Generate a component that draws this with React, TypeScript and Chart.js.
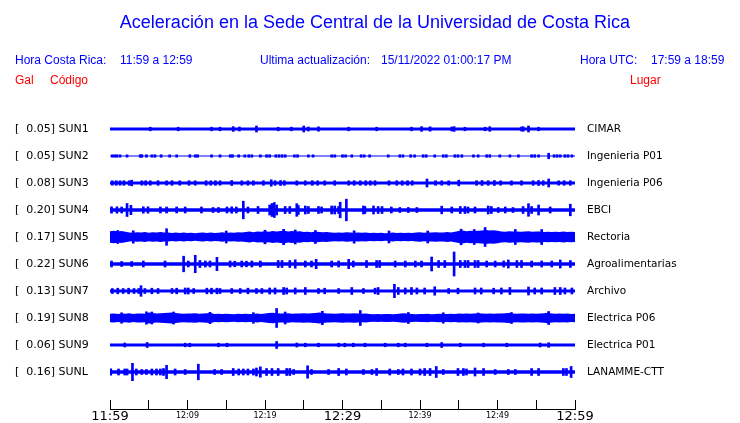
import React, { useEffect, useRef } from 'react';
import { Chart, registerables } from 'chart.js';

Chart.register(...registerables);

// ---------- data ----------
const CODES = ['SUN1', 'SUN2', 'SUN3', 'SUN4', 'SUN5', 'SUN6', 'SUN7', 'SUN8', 'SUN9', 'SUNL'];
const GAL = [0.05, 0.05, 0.08, 0.2, 0.17, 0.22, 0.13, 0.19, 0.06, 0.16];
const PLACES = ['CIMAR', 'Ingenieria P01', 'Ingenieria P06', 'EBCI', 'Rectoria', 'Agroalimentarias', 'Archivo', 'Electrica P06', 'Electrica P01', 'LANAMME-CTT'];
const TIME_LABELS = ['11:59', '', '12:09', '', '12:19', '', '12:29', '', '12:39', '', '12:49', '', '12:59'];

// half-width of the continuous background band of each trace (normalized amplitude)
const BASE_HALF = [1.6, 0.5, 1.6, 1.7, 4.5, 1.8, 1.6, 4.0, 1.6, 1.7];

// envelope (half-amplitude) of the noisy traces, one value every half minute (0..60)
const SUN5_ENV = [
  5.8, 6.2, 5.4, 6.0, 5.2,
  4.6, 4.2, 4.8, 4.4, 5.0, 4.3, 4.7, 4.4, 4.9, 4.5,
  4.6, 4.0, 4.4, 3.9, 4.5, 4.1, 4.3, 3.8, 4.2, 4.6, 4.0, 4.4, 3.9, 4.3, 4.7, 4.1, 4.5, 4.2, 4.8, 4.6,
  5.0, 5.4, 4.8, 5.6, 5.2, 5.8, 5.3, 6.0, 5.5, 5.9, 6.2, 5.6, 6.0, 5.4, 5.8,
  5.0, 5.3, 4.8, 5.4, 5.0, 4.7, 4.9,
  4.5, 4.2, 4.6, 4.3, 4.7, 4.4, 4.2, 4.6, 4.3, 4.5,
  4.0, 4.3, 3.9, 4.2, 3.8, 4.1, 4.4, 4.0, 4.2, 3.9, 4.3, 4.1,
  4.4, 4.7, 4.3, 4.6, 4.5, 4.8, 4.4, 4.6, 4.9, 4.5, 5.2,
  6.0, 6.4, 5.8, 6.2, 5.9, 6.3, 6.6,
  7.0, 6.6, 6.8, 6.2,
  5.6, 5.3, 5.8, 5.4, 5.6, 5.2, 5.5, 5.7, 5.3, 5.6, 5.4,
  5.0, 5.3, 4.9, 5.2, 5.0, 5.4, 5.1, 5.3, 5.0,
];
const SUN8_ENV = [
  4.2, 4.6, 4.0, 4.5, 4.3, 4.7, 4.1, 4.4, 4.6, 4.2,
  5.5, 5.0, 4.6, 4.8, 5.0, 5.2, 5.4, 5.0,
  4.5, 4.2, 4.6, 4.4, 4.7, 4.3, 4.5, 4.8, 5.0,
  4.0, 4.3, 3.9, 4.2, 4.1, 3.8, 4.2, 4.0, 4.3, 3.9, 4.1, 4.4, 4.0, 4.6, 5.0, 5.2,
  4.8, 4.5, 4.4, 4.7, 4.3, 4.6, 4.4, 4.8, 4.5, 4.7, 5.0, 5.4, 5.0,
  4.4, 4.6, 4.3, 4.5, 4.7, 4.4, 4.6, 4.8, 4.5, 4.3, 4.5, 4.1,
  3.8, 4.0, 3.7, 3.9, 4.1, 3.8, 4.0, 4.4, 4.8, 4.3, 4.0, 3.8, 4.1, 3.9, 4.2, 3.8, 4.0, 4.2, 3.9, 4.1,
  4.3, 4.1, 4.4, 4.2, 4.6, 4.3, 4.5, 4.8, 4.4, 4.2, 4.5, 4.3, 4.6, 4.4, 4.8, 5.0, 4.5, 4.3, 4.6, 4.4, 4.2, 4.5, 4.3, 4.6,
  4.8, 5.2, 4.6, 4.3, 4.5, 4.2, 4.4, 4.1, 4.3,
];
const ENV_STEP_MIN = 0.5;

// bursts / spikes: [minute after 11:59, half-amplitude]
const SPIKES_SUN1 = [
  [5.2, 1.8], [8.8, 1.8], [13.1, 1.8], [14.2, 1.8], [15.9, 2.4], [16.7, 2.0], [18.9, 3.0], [21.7, 1.8],
  [23.4, 1.8], [25.0, 3.0], [25.6, 2.0], [26.9, 2.2], [30.8, 1.8], [34.4, 1.8], [38.9, 1.8], [40.2, 2.4],
  [41.3, 2.2], [44.1, 2.0], [44.4, 2.4], [45.8, 1.8], [48.4, 1.8], [49.0, 2.3], [53.1, 2.0], [53.3, 2.3],
  [54.0, 3.0], [55.3, 1.8],
];
const SPIKES_SUN2 = [
  [0.3, 1.2], [0.6, 1.2], [0.9, 1.3], [1.3, 1.2], [2.2, 1.2], [3.9, 1.3], [4.1, 1.3], [4.7, 1.3], [5.4, 1.2],
  [5.8, 1.3], [6.6, 1.3], [7.7, 1.2], [8.6, 1.2], [10.3, 1.3], [11.0, 1.2], [11.3, 1.3], [13.1, 1.2],
  [14.2, 1.2], [15.5, 1.3], [15.8, 1.3], [16.6, 1.2], [17.4, 1.2], [17.9, 1.3], [18.3, 1.2], [19.4, 1.2],
  [20.2, 1.3], [20.6, 1.3], [21.4, 1.3], [21.8, 1.3], [22.2, 1.3], [22.6, 1.3], [23.8, 1.2], [24.2, 1.3],
  [25.6, 1.2], [26.2, 1.2], [28.6, 1.2], [29.0, 1.2], [30.0, 1.3], [30.4, 1.2], [31.2, 1.2], [32.4, 1.3],
  [32.8, 1.2], [33.5, 1.2], [35.9, 1.2], [37.4, 1.3], [37.8, 1.2], [38.8, 1.3], [39.3, 1.2], [40.4, 1.3],
  [40.8, 1.3], [41.9, 1.2], [43.0, 1.3], [43.4, 1.3], [44.5, 1.3], [44.9, 1.3], [45.4, 1.3], [46.9, 1.2],
  [47.5, 1.2], [48.6, 1.3], [49.0, 1.3], [50.3, 1.2], [51.6, 1.2], [52.7, 1.2], [54.4, 1.3], [54.8, 1.3],
  [55.3, 1.2], [56.6, 2.8], [57.3, 1.3], [57.7, 1.3], [58.1, 1.2], [58.7, 1.3], [59.1, 1.3], [59.6, 1.2],
];
const SPIKES_SUN3 = [
  [0.3, 2.2], [0.8, 2.3], [1.3, 2.2], [1.8, 2.3], [2.5, 2.3], [2.8, 2.8], [4.1, 2.2], [4.6, 2.3], [5.2, 2.2],
  [6.2, 2.3], [7.3, 2.2], [8.0, 2.3], [9.0, 2.2], [10.2, 2.3], [11.0, 2.2], [12.4, 2.3], [13.0, 2.2],
  [13.6, 2.3], [14.2, 2.2], [15.7, 2.5], [17.0, 2.2], [17.8, 2.2], [18.5, 2.2], [19.8, 2.3], [20.8, 3.2],
  [21.3, 2.3], [22.0, 2.5], [22.5, 2.3], [24.1, 2.2], [25.2, 2.2], [26.1, 2.3], [26.8, 2.2], [27.7, 2.2],
  [29.0, 2.3], [30.8, 2.2], [31.5, 2.3], [32.3, 2.2], [33.0, 2.3], [33.6, 2.2], [34.2, 2.3], [36.0, 2.2],
  [37.0, 2.3], [37.7, 2.2], [38.4, 2.3], [39.0, 2.2], [40.9, 4.0], [42.0, 2.3], [42.8, 2.2], [43.7, 2.2],
  [45.0, 2.8], [47.3, 2.3], [48.0, 2.5], [48.8, 2.3], [49.6, 2.5], [50.4, 2.2], [51.8, 2.2], [53.1, 2.2],
  [54.6, 2.3], [55.3, 2.5], [55.9, 2.3], [56.6, 4.0], [57.9, 2.2], [58.6, 2.3], [59.4, 2.3],
];
const SPIKES_SUN4 = [
  [0.2, 3.2], [0.9, 3.2], [1.5, 3.0], [2.2, 6.5], [2.7, 4.7], [4.3, 3.2], [4.9, 3.2], [6.5, 3.0], [7.3, 3.0],
  [8.6, 3.0], [9.7, 3.0], [11.8, 3.0], [13.3, 2.5], [14.0, 2.5], [15.1, 3.0], [15.7, 3.2], [16.3, 3.0],
  [17.2, 8.8], [17.8, 3.0], [19.1, 3.5], [20.6, 5.0], [20.9, 6.5], [21.2, 7.5], [21.5, 5.0], [22.6, 3.5],
  [23.2, 3.5], [24.1, 6.3], [24.3, 4.5], [25.2, 4.0], [25.6, 3.5], [26.9, 3.5], [27.3, 3.0], [28.6, 4.0],
  [29.0, 4.0], [29.5, 3.5], [29.7, 7.8], [30.5, 10.8], [32.7, 4.0], [32.9, 3.5], [34.0, 4.0], [34.6, 3.5],
  [35.1, 3.5], [36.3, 3.0], [37.4, 2.5], [38.5, 2.5], [39.6, 2.5], [42.8, 3.8], [44.1, 3.0], [45.2, 3.5],
  [45.8, 3.5], [46.2, 3.0], [47.1, 3.0], [48.8, 4.0], [49.2, 3.5], [50.1, 2.5], [51.0, 3.0], [52.0, 2.5],
  [53.3, 3.5], [54.0, 6.3], [54.4, 3.5], [55.3, 5.0], [56.8, 3.0], [59.4, 5.8],
];
const SPIKES_SUN5 = [
  [1.0, 6.5], [3.0, 6.2], [7.3, 8.3], [15.0, 6.0], [20.0, 6.8], [22.4, 7.7], [23.9, 7.0], [26.5, 6.5],
  [31.5, 6.2], [36.0, 6.0], [41.0, 6.0], [45.3, 7.8], [47.0, 7.5], [48.4, 9.5], [52.3, 7.5], [55.7, 7.5],
];
const SPIKES_SUN6 = [
  [0.2, 3.0], [1.5, 2.5], [2.8, 2.5], [4.3, 3.0], [7.1, 3.0], [9.5, 7.8], [10.1, 3.0], [11.0, 8.7], [11.6, 3.5],
  [12.3, 3.0], [12.9, 3.0], [13.8, 6.7], [15.5, 3.0], [16.1, 2.8], [17.0, 3.0], [17.6, 2.8], [18.3, 3.0],
  [19.4, 3.0], [21.7, 3.5], [22.2, 3.5], [23.2, 3.5], [23.9, 4.2], [25.2, 3.0], [26.0, 3.0], [26.6, 4.7],
  [28.6, 3.0], [29.5, 3.0], [30.8, 4.7], [31.4, 3.0], [33.1, 3.5], [34.4, 3.5], [34.8, 3.5], [36.8, 3.0],
  [38.1, 3.0], [39.4, 3.0], [40.2, 3.0], [41.5, 7.0], [42.4, 3.5], [43.2, 3.5], [44.4, 12.0], [45.2, 3.5],
  [45.8, 3.5], [46.2, 3.5], [47.1, 3.5], [47.5, 3.5], [48.6, 3.0], [49.7, 3.0], [50.8, 3.0], [51.4, 4.0],
  [52.5, 3.5], [53.1, 3.5], [54.4, 3.0], [55.7, 3.0], [57.0, 3.0], [58.1, 4.0], [59.4, 3.5],
];
const SPIKES_SUN7 = [
  [0.3, 2.5], [1.0, 2.8], [1.7, 2.5], [2.4, 2.8], [3.1, 2.5], [3.7, 2.5], [4.0, 5.3], [4.5, 2.5], [5.4, 2.8],
  [6.2, 2.5], [8.0, 2.5], [8.6, 2.8], [9.7, 3.0], [10.1, 3.0], [10.8, 2.5], [12.5, 2.8], [13.1, 2.8],
  [13.8, 2.8], [14.2, 2.5], [15.7, 2.5], [16.8, 2.5], [17.8, 2.8], [18.9, 2.5], [19.6, 2.5], [20.6, 3.0],
  [21.3, 3.0], [22.4, 3.5], [22.8, 3.0], [23.9, 3.0], [25.2, 3.5], [26.9, 2.5], [27.7, 2.8], [29.5, 2.5],
  [31.2, 3.5], [32.7, 2.5], [34.2, 2.8], [34.6, 3.5], [36.7, 6.7], [37.2, 3.5], [38.1, 3.0], [38.9, 3.5],
  [39.6, 3.0], [40.6, 3.0], [41.9, 4.2], [43.7, 2.5], [44.9, 2.8], [47.1, 3.0], [47.9, 3.0], [49.5, 2.8],
  [50.5, 3.0], [51.6, 3.5], [54.0, 4.0], [54.8, 3.0], [55.7, 3.0], [57.4, 3.5], [58.1, 3.5], [58.7, 3.0],
  [59.6, 3.0],
];
const SPIKES_SUN8 = [
  [1.5, 5.2], [4.7, 6.2], [5.4, 6.0], [8.2, 6.0], [12.9, 5.7], [18.5, 5.3], [21.5, 9.5], [22.6, 6.0],
  [27.4, 6.7], [32.3, 7.5], [38.5, 5.5], [43.0, 5.2], [47.5, 5.0], [51.8, 5.5], [56.6, 6.5],
];
const SPIKES_SUN9 = [
  [1.9, 2.0], [4.8, 2.5], [9.7, 1.8], [10.3, 1.8], [14.0, 1.8], [15.1, 1.8], [21.5, 3.5], [24.1, 2.0],
  [25.2, 1.8], [26.9, 1.8], [29.5, 1.8], [30.3, 1.8], [31.4, 1.8], [32.9, 1.8], [35.5, 1.8], [37.2, 1.8],
  [38.1, 1.8], [40.9, 1.8], [42.8, 2.5], [45.2, 1.8], [48.2, 1.8], [51.2, 1.8], [55.5, 2.0], [56.6, 2.3],
];
const SPIKES_SUNL = [
  [0.1, 3.2], [1.1, 3.0], [1.9, 3.0], [2.2, 3.0], [2.9, 8.7], [3.4, 3.0], [4.1, 2.5], [4.7, 2.5], [5.4, 3.0],
  [6.0, 3.0], [6.5, 3.0], [6.9, 3.5], [7.3, 6.7], [8.4, 3.0], [9.7, 2.5], [11.4, 7.8], [13.5, 2.5],
  [14.4, 2.5], [15.9, 3.5], [16.6, 3.0], [17.2, 3.0], [17.8, 3.0], [18.5, 3.0], [18.9, 4.0], [19.4, 5.2],
  [20.2, 3.5], [20.9, 3.5], [21.7, 3.5], [22.8, 3.5], [23.2, 3.5], [23.7, 2.5], [25.5, 6.2], [26.0, 2.5],
  [28.2, 2.5], [29.5, 3.5], [30.5, 3.0], [32.7, 2.5], [33.8, 2.5], [34.4, 3.5], [36.1, 3.0], [37.2, 2.5],
  [37.8, 3.0], [38.9, 3.0], [40.0, 3.0], [40.6, 3.5], [41.3, 3.5], [42.1, 5.5], [43.0, 2.5], [44.9, 3.5],
  [45.6, 3.5], [46.0, 3.0], [47.1, 4.0], [48.2, 3.5], [49.7, 2.5], [51.4, 2.5], [52.3, 2.5], [54.4, 3.5],
  [55.3, 3.5], [58.5, 3.5], [58.9, 3.5], [59.5, 5.5],
];

const ENVELOPES: (number[] | null)[] = [null, null, null, null, SUN5_ENV, null, null, SUN8_ENV, null, null];
const SPIKES = [SPIKES_SUN1, SPIKES_SUN2, SPIKES_SUN3, SPIKES_SUN4, SPIKES_SUN5, SPIKES_SUN6, SPIKES_SUN7, SPIKES_SUN8, SPIKES_SUN9, SPIKES_SUNL];

// ---------- layout / style ----------
const SPACING = 27; // vertical offset between traces (normalized units)
const N = CODES.length;
const T_MAX = 60;
const Y_MIN = -37;
const Y_MAX = (N - 1) * SPACING + 26;
const BLUE = '#0000ff';
const RED = '#ff0000';
const SANS = '"Liberation Sans", Arial, Helvetica, sans-serif';
const DEJAVU = '"DejaVu Sans", sans-serif';

const centerOf = (i: number) => (N - 1 - i) * SPACING;
const indexOf = (v: number) => N - 1 - Math.round(v / SPACING);

function buildDatasets() {
  const ds: any[] = [];
  for (let i = 0; i < N; i++) {
    const c = centerOf(i);
    const env = ENVELOPES[i];
    const pts = env
      ? env.map((a, k) => ({ x: k * ENV_STEP_MIN, a }))
      : [{ x: 0, a: BASE_HALF[i] }, { x: T_MAX, a: BASE_HALF[i] }];
    ds.push({
      type: 'line',
      data: pts.map((p) => ({ x: p.x, y: c + p.a })),
      borderColor: 'rgba(0,0,0,0)',
      borderWidth: 0,
      pointRadius: 0,
      tension: 0,
      fill: false,
    });
    ds.push({
      type: 'line',
      data: pts.map((p) => ({ x: p.x, y: c - p.a })),
      borderColor: 'rgba(0,0,0,0)',
      borderWidth: 0,
      pointRadius: 0,
      tension: 0,
      fill: '-1',
      backgroundColor: BLUE,
    });
    ds.push({
      type: 'bar',
      data: SPIKES[i].map(([t, a]) => ({ x: t, y: [c - a, c + a] })),
      backgroundColor: BLUE,
      borderWidth: 0,
      barThickness: 2,
      grouped: false,
    });
  }
  return ds;
}

const yTicks = (scale: any) => {
  const arr = [];
  for (let i = N - 1; i >= 0; i--) arr.push({ value: centerOf(i) });
  scale.ticks = arr;
};

const yFit = (w: number) => (s: any) => {
  s.width = w;
  s.paddingTop = 0;
  s.paddingBottom = 0;
};

export default function App() {
  const ref = useRef<HTMLCanvasElement | null>(null);

  useEffect(() => {
    if (!ref.current) return;
    const chart = new Chart(ref.current, {
      type: 'bar',
      data: { datasets: buildDatasets() },
      options: {
        animation: false,
        responsive: false,
        events: [],
        layout: { padding: { left: 15, top: 103, right: 0, bottom: 0 } },
        plugins: { legend: { display: false }, tooltip: { enabled: false }, title: { display: false } },
        scales: {
          x: {
            type: 'linear',
            position: 'bottom',
            offset: false,
            min: 0,
            max: T_MAX,
            afterFit: (s: any) => {
              s.height = 14;
              s.paddingLeft = 0;
              s.paddingRight = 0;
            },
            grid: { display: true, offset: false, drawOnChartArea: false, drawTicks: true, tickLength: -9, color: '#000', lineWidth: 1 },
            border: { display: true, color: '#000', width: 1 },
            ticks: {
              stepSize: 5,
              autoSkip: false,
              maxRotation: 0,
              padding: 9,
              color: '#000',
              callback: (_v: any, idx: number) => TIME_LABELS[idx],
              font: (ctx: any) =>
                ctx.index % 6 === 0
                  ? { family: DEJAVU, size: 13, lineHeight: 1.2 }
                  : { family: DEJAVU, size: 8, lineHeight: 1.675 },
            },
          },
          y: {
            type: 'linear',
            position: 'left',
            min: Y_MIN,
            max: Y_MAX,
            afterFit: yFit(95),
            afterBuildTicks: yTicks,
            grid: { display: false, drawTicks: false },
            border: { display: false },
            ticks: {
              autoSkip: false,
              crossAlign: 'far',
              padding: 0,
              color: '#000',
              font: { family: DEJAVU, size: 11 },
              callback: (v: any) => {
                const i = indexOf(Number(v));
                return `[  ${GAL[i].toFixed(2)}] ${CODES[i]}`;
              },
            },
          },
          y2: {
            type: 'linear',
            position: 'right',
            min: Y_MIN,
            max: Y_MAX,
            afterFit: yFit(165),
            afterBuildTicks: yTicks,
            grid: { display: false, drawTicks: false },
            border: { display: false },
            ticks: {
              autoSkip: false,
              padding: 12,
              color: '#000',
              font: { family: DEJAVU, size: 10.5 },
              callback: (v: any) => PLACES[indexOf(Number(v))],
            },
          },
        },
      } as any,
    });
    return () => chart.destroy();
  }, []);

  const abs = (extra: React.CSSProperties): React.CSSProperties => ({
    position: 'absolute',
    whiteSpace: 'pre',
    ...extra,
  });

  return (
    <div style={{ position: 'absolute', left: 0, top: 0, width: 740, height: 423, background: '#fff', overflow: 'hidden' }}>
      <canvas ref={ref} width={740} height={423} style={{ position: 'absolute', left: 0, top: 0, display: 'block' }} />
      <div style={abs({ left: 0, top: 12, width: 750, textAlign: 'center', font: `18px ${SANS}`, lineHeight: '20px', color: BLUE })}>
        Aceleración en la Sede Central de la Universidad de Costa Rica
      </div>
      <div style={abs({ left: 15, top: 53, font: `12px ${SANS}`, lineHeight: '14px', color: BLUE })}>Hora Costa Rica:</div>
      <div style={abs({ left: 120, top: 53, font: `12px ${SANS}`, lineHeight: '14px', color: BLUE })}>11:59 a 12:59</div>
      <div style={abs({ left: 260, top: 53, font: `12px ${SANS}`, lineHeight: '14px', color: BLUE })}>Ultima actualización:</div>
      <div style={abs({ left: 381, top: 53, font: `12px ${SANS}`, lineHeight: '14px', color: BLUE })}>15/11/2022 01:00:17 PM</div>
      <div style={abs({ left: 580, top: 53, font: `12px ${SANS}`, lineHeight: '14px', color: BLUE })}>Hora UTC:</div>
      <div style={abs({ left: 651, top: 53, font: `12px ${SANS}`, lineHeight: '14px', color: BLUE })}>17:59 a 18:59</div>
      <div style={abs({ left: 15, top: 73, font: `12px ${SANS}`, lineHeight: '14px', color: RED })}>Gal</div>
      <div style={abs({ left: 50, top: 73, font: `12px ${SANS}`, lineHeight: '14px', color: RED })}>Código</div>
      <div style={abs({ left: 630, top: 73, font: `12px ${SANS}`, lineHeight: '14px', color: RED })}>Lugar</div>
    </div>
  );
}
